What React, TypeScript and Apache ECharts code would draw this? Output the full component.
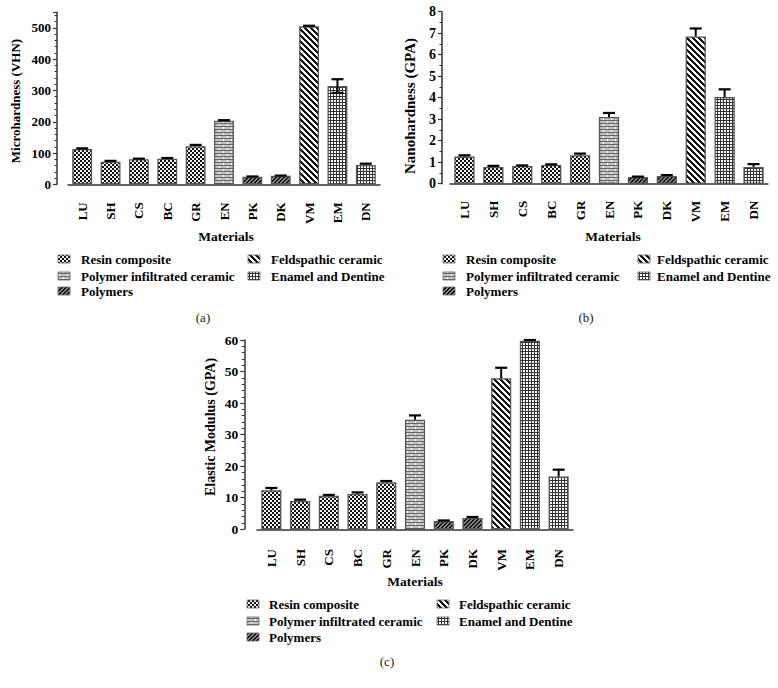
import React, { useEffect, useRef } from "react";
import * as echarts from "echarts";

const categories = ["LU", "SH", "CS", "BC", "GR", "EN", "PK", "DK", "VM", "EM", "DN"];
const groupOfCategory = [0, 0, 0, 0, 0, 1, 2, 2, 3, 4, 4];
const groupNames = [
  "Resin composite",
  "Polymer infiltrated ceramic",
  "Polymers",
  "Feldspathic ceramic",
  "Enamel and Dentine",
];

const microValues = [113, 72, 80, 82, 122, 203, 24, 27, 505, 314, 62];
const microErrUp = [2, 3, 2, 2, 4, 2, 1, 1, 2, 22, 4];
const microErrDown = [0, 0, 0, 0, 0, 0, 0, 0, 0, 22, 0];

const nanoValues = [1.26, 0.78, 0.82, 0.87, 1.32, 3.1, 0.31, 0.36, 6.85, 4.03, 0.78];
const nanoErrUp = [0.06, 0.05, 0.03, 0.03, 0.08, 0.19, 0.02, 0.04, 0.37, 0.36, 0.13];
const nanoErrDown = [0, 0, 0, 0, 0, 0, 0, 0, 0, 0, 0];

const elasticValues = [12.4, 9.0, 10.6, 11.2, 14.9, 34.7, 2.6, 3.6, 47.9, 59.8, 16.7];
const elasticErrUp = [0.7, 0.4, 0.3, 0.5, 0.4, 1.4, 0.2, 0.3, 3.3, 0.2, 2.2];
const elasticErrDown = [0, 0, 0, 0, 0, 0, 0, 0, 0, 0, 0];

const microAxis = { max: 550, interval: 100, minor: 5 };
const nanoAxis = { max: 8, interval: 1, minor: 2 };
const elasticAxis = { max: 60, interval: 10, minor: 5 };

const FONT = "'Liberation Serif', 'Times New Roman', serif";

function makeTile(kind: number): HTMLCanvasElement {
  const c = document.createElement("canvas");
  let w = 4, h = 4;
  if (kind === 1) { w = 8; h = 6; }
  if (kind === 3) { w = 6; h = 6; }
  if (kind === 4) { w = 3; h = 3; }
  c.width = w; c.height = h;
  const ctx = c.getContext("2d")!;
  ctx.fillStyle = "#ffffff";
  ctx.fillRect(0, 0, w, h);
  for (let y = 0; y < h; y++) {
    for (let x = 0; x < w; x++) {
      let col: string | null = null;
      if (kind === 0) {
        col = ((x >> 1) + (y >> 1)) % 2 === 0 ? "#111111" : "#f4f4f4";
      } else if (kind === 1) {
        if (y === 0 || y === 3) col = "#666666";
        else {
          const mortarX = y < 3 ? 7 : 3;
          col = x === mortarX ? "#ffffff" : "#c2c2c2";
        }
      } else if (kind === 2) {
        col = (x + y) % 4 < 2 ? "#111111" : "#8a8a8a";
      } else if (kind === 3) {
        col = (x - y + 12) % 6 < 3 ? "#111111" : "#ffffff";
      } else if (kind === 4) {
        col = x === 0 || y === 0 ? "#333333" : "#ffffff";
      }
      if (col) {
        ctx.fillStyle = col;
        ctx.fillRect(x, y, 1, 1);
      }
    }
  }
  return c;
}

export default function App() {
  const ref = useRef<HTMLDivElement>(null);

  useEffect(() => {
    if (!ref.current) return;
    const chart = echarts.init(ref.current, undefined, { renderer: "svg" });
    const tiles = [0, 1, 2, 3, 4].map((k) => makeTile(k));
    const pattern = (k: number) => ({ type: "pattern", image: tiles[k], repeat: "repeat" });

    const panels = [
      { values: microValues, up: microErrUp, down: microErrDown, axis: microAxis, grid: { left: 68, top: 12.3, width: 312, height: 172 }, xOff: 9, yOff: 11, tickFont: 13 },
      { values: nanoValues, up: nanoErrUp, down: nanoErrDown, axis: nanoAxis, grid: { left: 450, top: 11.7, width: 318, height: 172 }, xOff: 8, yOff: 8, tickFont: 14 },
      { values: elasticValues, up: elasticErrUp, down: elasticErrDown, axis: elasticAxis, grid: { left: 257, top: 340, width: 316, height: 189.3 }, xOff: 10.7, yOff: 12.7, tickFont: 13.5 },
    ];

    const axisLineStyle = { color: "#333", width: 1.5 };

    const grid = panels.map((p) => ({ ...p.grid, containLabel: false }));
    const xAxis = panels.map((p, i) => ({
      type: "category",
      gridIndex: i,
      data: categories,
      offset: p.xOff,
      axisLine: { lineStyle: axisLineStyle },
      axisTick: { alignWithLabel: true, length: 4, lineStyle: { color: "#333", width: 1.2 } },
      axisLabel: { rotate: 90, fontFamily: FONT, fontWeight: "bold", fontSize: 13, color: "#000", margin: 9, interval: 0 },
    }));
    const yAxis = panels.map((p, i) => ({
      type: "value",
      gridIndex: i,
      min: 0,
      max: p.axis.max,
      interval: p.axis.interval,
      offset: p.yOff,
      splitLine: { show: false },
      axisLine: { show: true, lineStyle: axisLineStyle },
      axisTick: { show: true, length: 4, lineStyle: { color: "#333", width: 1.2 } },
      minorTick: { show: true, splitNumber: p.axis.minor, length: 2.5, lineStyle: { color: "#333", width: 1 } },
      axisLabel: { fontFamily: FONT, fontWeight: "bold", fontSize: p.tickFont, color: "#000", margin: 6, showMaxLabel: p.axis.max % p.axis.interval === 0 },
    }));

    const series: any[] = [];
    panels.forEach((p, i) => {
      series.push({
        type: "bar",
        xAxisIndex: i,
        yAxisIndex: i,
        barCategoryGap: "30%",
        data: p.values.map((v, j) => ({
          value: v,
          itemStyle: { color: pattern(groupOfCategory[j]), borderColor: "#555", borderWidth: 1.3 },
        })),
      });
      series.push({
        type: "custom",
        xAxisIndex: i,
        yAxisIndex: i,
        z: 5,
        data: p.values.map((v, j) => [j, v - p.down[j], v + p.up[j]]),
        renderItem: (params: any, api: any) => {
          const x = api.value(0);
          const lo = api.coord([x, api.value(1)]);
          const hi = api.coord([x, api.value(2)]);
          const half = 6;
          const children: any[] = [
            { type: "line", shape: { x1: hi[0], y1: hi[1], x2: lo[0], y2: lo[1] }, style: { stroke: "#000", lineWidth: 2 } },
            { type: "line", shape: { x1: hi[0] - half, y1: hi[1], x2: hi[0] + half, y2: hi[1] }, style: { stroke: "#000", lineWidth: 2.2 } },
          ];
          if (api.value(1) < p.values[x] - 1e-9) {
            children.push({ type: "line", shape: { x1: lo[0] - half, y1: lo[1], x2: lo[0] + half, y2: lo[1] }, style: { stroke: "#000", lineWidth: 2.2 } });
          }
          return { type: "group", children };
        },
      });
    });

    const yTitles = [
      { text: "Microhardness (VHN)", x: 15, y: 101, size: 13 },
      { text: "Nanohardness (GPA)", x: 410, y: 106, size: 15 },
      { text: "Elastic Modulus (GPA)", x: 210, y: 427, size: 14 },
    ];
    const xTitles = [
      { x: 226, y: 236 },
      { x: 613, y: 236 },
      { x: 415, y: 581 },
    ];
    const panelLabels = [
      { text: "(a)", x: 203, y: 317 },
      { text: "(b)", x: 586, y: 317 },
      { text: "(c)", x: 387, y: 661 },
    ];
    const legends = [
      { lx: 58, ltx: 81, rx: 248, rtx: 271, rows: [259, 276, 291] },
      { lx: 443, ltx: 466, rx: 638, rtx: 657, rows: [259, 276, 291] },
      { lx: 247, ltx: 269, rx: 437, rtx: 459, rows: [604, 621, 637] },
    ];
    const legendSlots = [
      { col: 0, row: 0 },
      { col: 0, row: 1 },
      { col: 0, row: 2 },
      { col: 1, row: 0 },
      { col: 1, row: 1 },
    ];

    const graphic: any[] = [];
    yTitles.forEach((t) => {
      graphic.push({
        type: "text", x: t.x, y: t.y, rotation: Math.PI / 2,
        style: { text: t.text, font: `bold ${t.size}px ${FONT}`, fill: "#000", align: "center", verticalAlign: "middle" },
      });
    });
    xTitles.forEach((t) => {
      graphic.push({
        type: "text", x: t.x, y: t.y,
        style: { text: "Materials", font: `bold 13.5px ${FONT}`, fill: "#000", align: "center", verticalAlign: "middle" },
      });
    });
    panelLabels.forEach((t) => {
      graphic.push({
        type: "text", x: t.x, y: t.y,
        style: { text: t.text, font: `13px ${FONT}`, fill: "#222", align: "center", verticalAlign: "middle" },
      });
    });
    legends.forEach((lg) => {
      groupNames.forEach((name, k) => {
        const slot = legendSlots[k];
        const sx = slot.col === 0 ? lg.lx : lg.rx;
        const tx = slot.col === 0 ? lg.ltx : lg.rtx;
        const y = lg.rows[slot.row];
        graphic.push({
          type: "rect", shape: { x: sx, y: y - 4, width: 12, height: 8 },
          style: { fill: pattern(k), stroke: "#666", lineWidth: 0.8 },
        });
        graphic.push({
          type: "text", x: tx, y: y,
          style: { text: name, font: `bold 13px ${FONT}`, fill: "#000", align: "left", verticalAlign: "middle" },
        });
      });
    });

    chart.setOption({
      animation: false,
      backgroundColor: "#ffffff",
      grid,
      xAxis,
      yAxis,
      series,
      graphic,
    } as any);

    return () => chart.dispose();
  }, []);

  return (
    <div
      ref={ref}
      style={{ position: "absolute", left: 0, top: 0, width: 778, height: 688 }}
    />
  );
}
